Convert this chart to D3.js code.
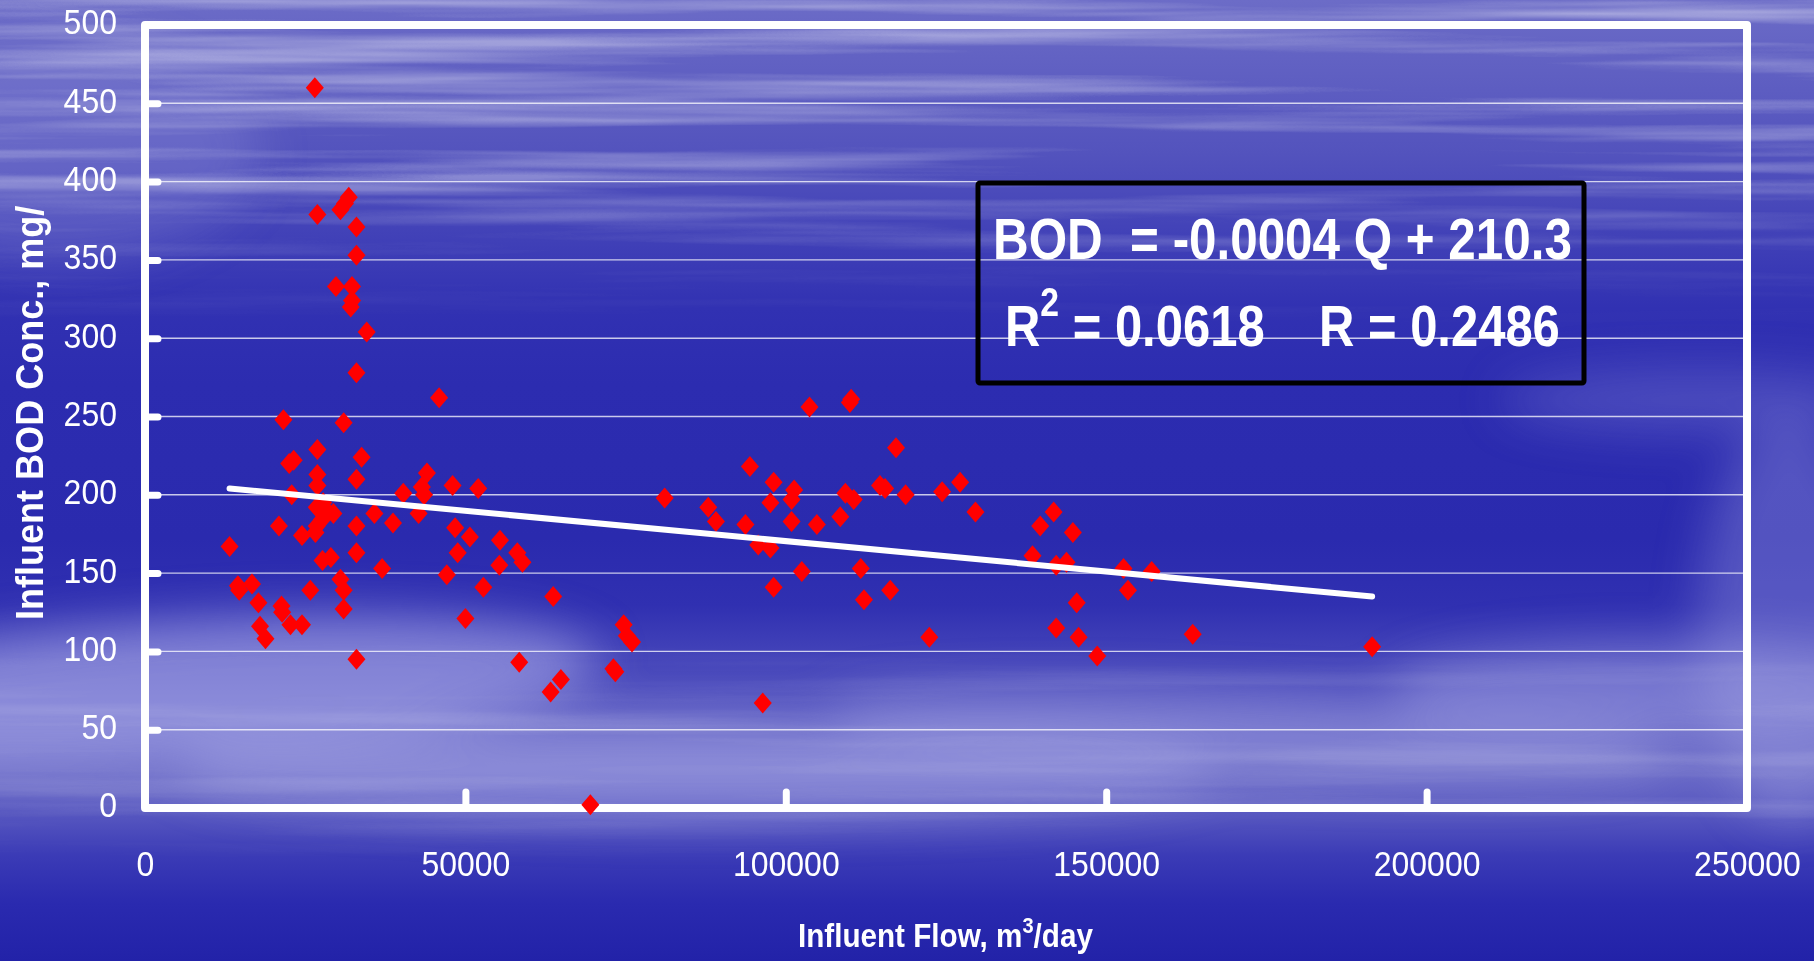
<!DOCTYPE html>
<html>
<head>
<meta charset="utf-8">
<script src="https://cdn.jsdelivr.net/npm/d3@7"></script>
<style>
  html, body { margin: 0; padding: 0; background: #2b2bae; overflow: hidden; }
  svg { display: block; }
  text { font-family: "Liberation Sans", Arial, sans-serif; fill: #fff; }
</style>
</head>
<body>
<svg id="chart" width="1814" height="961"></svg>
<script>
// influent flow (m3/day) and influent BOD (mg/l)
const flow = [13200,14500,14700,16700,17700,17950,18800,20900,21300,21400,
  21600,22500,22700,22900,23200,24500,24500,25800,26500,26600,
  26800,26800,26900,26900,26900,26900,27600,27700,28100,27800,
  29000,29400,29800,30500,31000,31000,31000,30500,31200,31800,
  32100,32300,32300,33000,33000,33000,33000,33000,33000,33000,
  33800,34600,35800,37000,38700,40300,42700,43200,43550,44000,
  45900,47100,48000,48400,48800,50000,50700,52000,52800,55400,
  55300,58100,58900,58400,63700,63300,64900,69500,73100,73400,
  74700,75200,76000,81100,87900,89100,93700,94400,95700,96400,
  97600,97600,98100,98100,100900,101300,100900,102500,103700,104850,
  108500,109300,110000,110200,110600,111700,112200,114700,115500,116300,
  117200,118700,122400,124400,127200,129600,138500,139700,141800,142200,
  142200,143800,144800,145400,145700,148600,152700,153400,157100,163500,
  191500];
const bod = [167,142,139,143,131,116,108,180,129,125,
  248,220,117,200,222,174,117,139,460,176,
  180,192,379,229,213,206,184,158,191,195,
  160,188,333,146,139,127,246,382,386,390,
  320,333,324,371,353,278,210,180,163,95,
  224,304,188,153,182,201,188,205,200,214,
  262,149,206,179,163,121,173,204,141,171,
  155,163,157,93,135,74,82,2,89,87,
  117,110,106,198,192,183,181,218,168,67,
  166,195,208,141,197,203,183,151,256,181,
  186,201,259,261,197,153,133,206,204,139,
  230,200,109,202,208,189,161,180,189,155,
  115,157,176,131,109,97,153,139,151,111,
  103];

// linear trend line end points as drawn
const trendFlow = [13200, 191500];
const trendBod = [204, 135];

const xTicks = [0, 50000, 100000, 150000, 200000, 250000];
const yTicks = [0, 50, 100, 150, 200, 250, 300, 350, 400, 450, 500];

const eqText = "BOD  = -0.0004 Q + 210.3";
const r2Value = "0.0618";
const rValue = "0.2486";

const svg = d3.select("#chart");
const W = 1814, H = 961;
const margin = { left: 145, right: 67, top: 25, bottom: 153 };

const x = d3.scaleLinear().domain([0, 250000]).range([margin.left, W - margin.right]);
const y = d3.scaleLinear().domain([0, 500]).range([H - margin.bottom, margin.top]);

// ---- background: blue gradient with pale streaks ----
const defs = svg.append("defs");
const bg = defs.append("linearGradient").attr("id", "bg")
  .attr("x1", 0).attr("y1", 0).attr("x2", 0).attr("y2", 1);
[[0, "#6c6cc7"], [0.06, "#6262c3"], [0.16, "#5353bd"], [0.25, "#4040b7"],
 [0.32, "#3131b2"], [0.4, "#2c2cb0"], [0.56, "#2a2aae"], [0.63, "#3030b1"],
 [0.69, "#4646ba"], [0.75, "#5f5fc3"], [0.8, "#6b6bc7"], [0.85, "#5555bf"],
 [0.89, "#3b3bb6"], [0.94, "#2a2aaf"], [1, "#2222a8"]]
  .forEach(([o, c]) => bg.append("stop").attr("offset", o).attr("stop-color", c));

defs.append("filter").attr("id", "soft")
  .attr("x", "-50%").attr("y", "-50%").attr("width", "200%").attr("height", "200%")
  .append("feGaussianBlur").attr("stdDeviation", 24);

const streak = defs.append("filter").attr("id", "streak")
  .attr("x", 0).attr("y", 0).attr("width", "100%").attr("height", "100%")
  .attr("filterUnits", "userSpaceOnUse");
streak.append("feTurbulence").attr("type", "fractalNoise")
  .attr("baseFrequency", "0.0011 0.04").attr("numOctaves", 4).attr("seed", 7);
streak.append("feColorMatrix").attr("type", "matrix")
  .attr("values", "0 0 0 0 1  0 0 0 0 1  0 0 0 0 1  3.2 0 0 0 -1.45");

const mask = defs.append("linearGradient").attr("id", "streakMaskGrad")
  .attr("x1", 0).attr("y1", 0).attr("x2", 0).attr("y2", 1);
[[0, 1], [0.18, 0.85], [0.28, 0.25], [0.34, 0], [0.66, 0], [0.74, 0.3],
 [0.84, 0.3], [0.9, 0], [1, 0]]
  .forEach(([o, a]) => mask.append("stop").attr("offset", o)
    .attr("stop-color", "#fff").attr("stop-opacity", a));
defs.append("mask").attr("id", "streakMask")
  .append("rect").attr("width", W).attr("height", H).attr("fill", "url(#streakMaskGrad)");

svg.append("rect").attr("width", W).attr("height", H).attr("fill", "url(#bg)");

const haze = svg.append("g").attr("filter", "url(#soft)").attr("fill", "#b4b4ec");
haze.append("ellipse").attr("cx", 180).attr("cy", 690).attr("rx", 420).attr("ry", 70)
  .attr("opacity", 0.55).attr("transform", "rotate(-4 180 690)");
haze.append("ellipse").attr("cx", 700).attr("cy", 770).attr("rx", 520).attr("ry", 45)
  .attr("opacity", 0.45);
haze.append("ellipse").attr("cx", 1250).attr("cy", 735).attr("rx", 420).attr("ry", 40)
  .attr("opacity", 0.35).attr("transform", "rotate(3 1250 735)");
haze.append("ellipse").attr("cx", 1650).attr("cy", 690).attr("rx", 260).attr("ry", 45)
  .attr("opacity", 0.4);
haze.append("ellipse").attr("cx", 1790).attr("cy", 620).attr("rx", 90).attr("ry", 200)
  .attr("opacity", 0.3);
haze.append("ellipse").attr("cx", 1700).attr("cy", 400).attr("rx", 200).attr("ry", 30)
  .attr("opacity", 0.25);
haze.append("ellipse").attr("cx", 60).attr("cy", 150).attr("rx", 200).attr("ry", 110)
  .attr("opacity", 0.2);

svg.append("rect").attr("width", W).attr("height", H)
  .attr("filter", "url(#streak)").attr("mask", "url(#streakMask)").attr("opacity", 0.4);

// ---- gridlines ----
svg.append("g")
  .selectAll("line")
  .data(yTicks.filter(d => d > 0 && d < 500))
  .join("line")
  .attr("x1", x(0)).attr("x2", x(250000))
  .attr("y1", d => y(d)).attr("y2", d => y(d))
  .attr("stroke", "#fff").attr("stroke-opacity", 0.75).attr("stroke-width", 1.4);

// ---- frame and axes ----
svg.append("rect")
  .attr("x", x(0)).attr("y", y(500))
  .attr("width", x(250000) - x(0)).attr("height", y(0) - y(500))
  .attr("fill", "none").attr("stroke", "#fff").attr("stroke-width", 8)
  .attr("stroke-linejoin", "round");

const yAxis = svg.append("g")
  .attr("transform", `translate(${x(0)},0)`)
  .call(d3.axisLeft(y).tickValues(yTicks).tickSize(-13).tickPadding(28).tickFormat(d3.format("d")));
const xAxis = svg.append("g")
  .attr("transform", `translate(0,${y(0)})`)
  .call(d3.axisBottom(x).tickValues(xTicks).tickSize(-16).tickPadding(38).tickFormat(d3.format("d")));

[yAxis, xAxis].forEach(ax => {
  ax.select(".domain").remove();
  ax.selectAll(".tick line")
    .attr("stroke", "#fff").attr("stroke-width", 7).attr("stroke-linecap", "round");
  ax.selectAll(".tick text")
    .attr("fill", "#fff").attr("font-size", 32)
    .style("font-family", "'Liberation Sans', Arial, sans-serif")
    .attr("transform", "scale(1,1.12)");
});
yAxis.selectAll(".tick text").attr("dy", "0.25em");
// end ticks sit on the frame
yAxis.selectAll(".tick line").filter(d => d === 0 || d === 500).remove();
xAxis.selectAll(".tick line").filter(d => d === 0 || d === 250000).remove();

// ---- data points ----
const diamond = "M0,-10.5L9,0L0,10.5L-9,0Z";
svg.append("g")
  .selectAll("path")
  .data(flow.map((f, i) => [f, bod[i]]))
  .join("path")
  .attr("d", diamond)
  .attr("transform", d => `translate(${x(d[0])},${y(d[1])})`)
  .attr("fill", "#ff0000");

// ---- trend line ----
svg.append("path")
  .datum(trendFlow.map((f, i) => [f, trendBod[i]]))
  .attr("d", d3.line().x(d => x(d[0])).y(d => y(d[1])))
  .attr("fill", "none").attr("stroke", "#fff").attr("stroke-width", 6)
  .attr("stroke-linecap", "round");

// squeeze a text so it spans [x0, x0 + width] with baseline at yb
function fitText(t, x0, yb, width, sy = 1) {
  const b = t.node().getBBox();
  t.attr("transform", `translate(${x0},${yb}) scale(${width / b.width},${sy}) translate(${-b.x},0)`);
}

// ---- regression box ----
svg.append("rect")
  .attr("x", 978).attr("y", 183).attr("width", 606).attr("height", 200)
  .attr("fill", "none").attr("stroke", "#000").attr("stroke-width", 5).attr("rx", 2);

const eq1 = svg.append("text")
  .attr("font-size", 58).attr("font-weight", "bold")
  .style("white-space", "pre")
  .text(eqText);
fitText(eq1, 993, 259, 579);

const eq2 = svg.append("text")
  .attr("font-size", 58).attr("font-weight", "bold")
  .style("white-space", "pre");
eq2.append("tspan").text("R");
eq2.append("tspan").attr("font-size", 40).attr("dy", -30).text("2");
eq2.append("tspan").attr("dy", 30).text(` = ${r2Value}    R = ${rValue}`);
fitText(eq2, 1005, 346, 555);

// ---- axis titles ----
const xTitle = svg.append("text")
  .attr("font-size", 32.5).attr("font-weight", "bold");
xTitle.append("tspan").text("Influent Flow, m");
xTitle.append("tspan").attr("font-size", 22).attr("dy", -14).text("3");
xTitle.append("tspan").attr("dy", 14).text("/day");
fitText(xTitle, 798, 946.7, 295);

const yTitle = svg.append("text")
  .attr("font-size", 38).attr("font-weight", "bold")
  .text("Influent BOD Conc., mg/");
const yb = yTitle.node().getBBox();
yTitle.attr("transform",
  `translate(43,620) rotate(-90) scale(${415 / yb.width},1) translate(${-yb.x},0)`);
</script>
</body>
</html>
